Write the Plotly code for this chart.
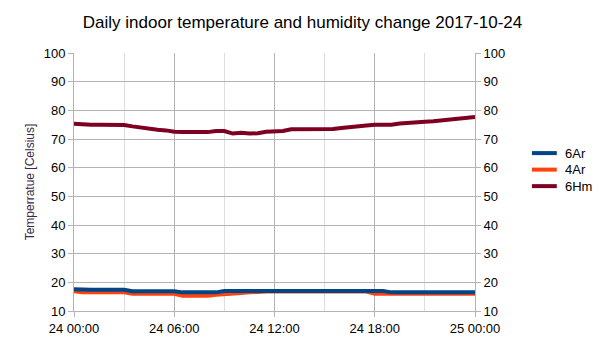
import pandas as pd
import plotly.graph_objects as go

# Half-hourly readings for 2017-10-24
hours = [i * 0.5 for i in range(49)]
times = pd.Timestamp("2017-10-24 00:00") + pd.to_timedelta(hours, unit="h")

temp_6ar = [17.6, 17.4, 17.4, 17.4, 17.4, 17.4, 17.4, 16.9, 16.9, 16.9,
            16.9, 16.9, 16.9, 16.5, 16.5, 16.5, 16.5, 16.5, 17.0, 17.0,
            17.0, 17.0, 17.0, 17.0, 17.0, 17.0, 17.3, 17.3, 17.3, 17.3,
            17.3, 17.0, 17.0, 17.0, 17.0, 17.0, 17.0, 17.0, 16.5, 16.5,
            16.5, 16.8, 16.5, 16.5, 16.5, 16.5, 16.5, 16.5, 16.5]

temp_4ar = [16.9, 16.5, 16.5, 16.5, 16.5, 16.5, 16.5, 16.0, 16.0, 16.0,
            16.0, 16.0, 16.0, 15.3, 15.3, 15.3, 15.3, 15.7, 16.0, 16.2,
            16.3, 16.5, 16.8, 16.8, 16.8, 16.8, 17.1, 17.1, 17.1, 17.1,
            17.1, 16.8, 16.8, 16.8, 16.8, 16.8, 16.0, 16.0, 16.0, 16.0,
            16.0, 16.3, 16.0, 16.0, 16.0, 16.0, 16.0, 16.0, 16.0]

hum_6hm = [75.3, 75.0, 75.0, 75.0, 75.0, 75.0, 74.9, 74.4, 73.9, 73.6,
           73.2, 73.0, 72.5, 72.4, 72.4, 72.4, 72.4, 72.8, 72.8, 71.9,
           72.2, 71.9, 72.0, 72.5, 72.7, 72.8, 73.4, 73.4, 73.4, 73.4,
           73.4, 73.5, 73.8, 74.0, 74.4, 74.7, 75.0, 75.0, 75.0, 75.4,
           75.5, 75.6, 76.0, 76.2, 76.5, 76.8, 77.2, 77.5, 77.7]

series_names = ["6Ar", "4Ar", "6Hm"]
series_colors = ["#004586", "#ff420e", "#7e0021"]

y_ticks = list(range(10, 101, 10))
x_ticks = pd.date_range("2017-10-24 00:00", "2017-10-25 00:00", freq="6h")

fig = go.Figure()
# humidity first, then 4Ar, with 6Ar drawn on top
for name, values, color in [("6Hm", hum_6hm, series_colors[2]),
                            ("4Ar", temp_4ar, series_colors[1]),
                            ("6Ar", temp_6ar, series_colors[0])]:
    fig.add_trace(go.Scatter(x=times, y=values, name=name, mode="lines",
                             line=dict(color=color, width=4), showlegend=False))
# mirror axis on the right
fig.add_trace(go.Scatter(x=[times[0]], y=[None], yaxis="y2",
                         showlegend=False, hoverinfo="skip"))

# compact legend drawn beside the plot area
legend_top = 0.612
legend_step = 0.064
for i, (name, color) in enumerate(zip(series_names, series_colors)):
    yy = legend_top - i * legend_step
    fig.add_shape(type="line", xref="paper", yref="paper",
                  x0=1.142, x1=1.204, y0=yy, y1=yy,
                  line=dict(color=color, width=4))
    fig.add_annotation(text=name, xref="paper", yref="paper", x=1.22, y=yy,
                       xanchor="left", yanchor="middle", showarrow=False,
                       font=dict(size=13, color="#000000"))

grid = "#b3b3b3"
fig.update_layout(
    width=605, height=340,
    margin=dict(l=74, r=130, t=53, b=29),
    paper_bgcolor="white", plot_bgcolor="white",
    font=dict(family="Liberation Sans, Arial, sans-serif", size=13, color="#000000"),
    title=dict(text="Daily indoor temperature and humidity change 2017-10-24",
               x=0.5, xanchor="center", y=0.935, yanchor="middle",
               font=dict(size=17, color="#000000")),
    showlegend=False,
    xaxis=dict(
        range=[x_ticks[0], x_ticks[-1]],
        tickvals=list(x_ticks), tickformat="%d %H:%M",
        showgrid=True, gridcolor=grid, gridwidth=1,
        minor=dict(dtick=3 * 3600 * 1000, showgrid=True, gridcolor="#dddddd"),
        showline=True, linecolor=grid, ticks="outside", tickcolor=grid, ticklen=5,
        zeroline=False, tickfont=dict(size=13), automargin=False,
    ),
    yaxis=dict(
        range=[10, 100], tickvals=y_ticks,
        showgrid=True, gridcolor=grid, gridwidth=1,
        showline=True, linecolor=grid, ticks="outside", tickcolor=grid, ticklen=5,
        zeroline=False, tickfont=dict(size=13), automargin=False,
        title=dict(text="Temperratue [Celsius]", font=dict(size=12, color="#3b2a45"),
                   standoff=6),
    ),
    yaxis2=dict(
        range=[10, 100], tickvals=y_ticks, overlaying="y", side="right",
        showgrid=False, showline=True, linecolor=grid, ticks="outside",
        tickcolor=grid, ticklen=5, zeroline=False, tickfont=dict(size=13),
        automargin=False,
    ),
)

fig.write_html("out.html")
